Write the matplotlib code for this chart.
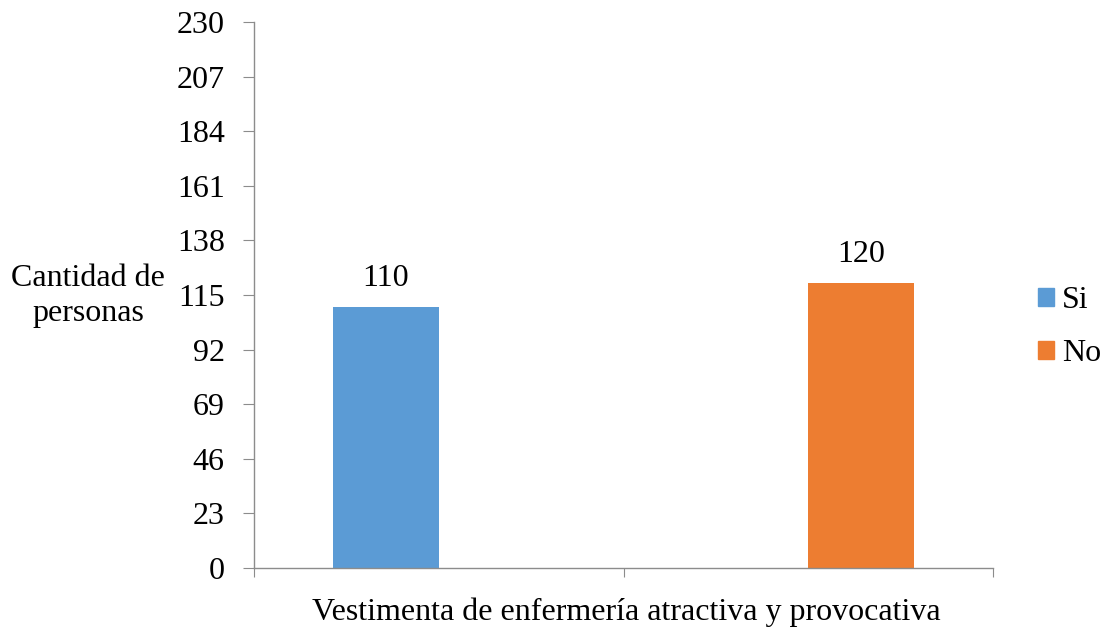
import numpy as np
import matplotlib
matplotlib.use("Agg")
import matplotlib.pyplot as plt
from matplotlib.patches import Patch

series = ["Si", "No"]
values = [110, 120]
colors = ["#5B9BD5", "#ED7D31"]
yticks = [0, 23, 46, 69, 92, 115, 138, 161, 184, 207, 230]

plt.rcParams["font.family"] = ["Liberation Serif", "DejaVu Serif"]
FS = 23

fig = plt.figure(figsize=(11.06, 6.32), dpi=100)
ax = fig.add_axes([254/1106, 1 - 568/632, (993 - 254)/1106, (568 - 22)/632])

width = 106 / 370
# each series sits in its own category slot, offset like a grouped bar chart
centers = [0.5, 1.5]
offsets = [-width / 2, width / 2]
for i in range(2):
    x = centers[i] + offsets[i]
    ax.bar(x, values[i], width=width, color=colors[i])
    ax.text(x, values[i] + 6, str(values[i]), ha="center", va="bottom", fontsize=FS)

ax.set_xlim(0, 2)
ax.set_ylim(0, 230)
ax.set_yticks(yticks)
ax.set_yticklabels([str(t) for t in yticks], fontsize=FS)
ax.set_xticks([0, 1, 2])
ax.set_xticklabels([])
for s in ["top", "right"]:
    ax.spines[s].set_visible(False)
for s in ["left", "bottom"]:
    ax.spines[s].set_color("#8c8c8c")
    ax.spines[s].set_linewidth(1.0)
ax.tick_params(axis="y", length=8, color="#8c8c8c", pad=13)
ax.tick_params(axis="x", length=6.5, color="#8c8c8c")

fig.text(88/1106, 1 - 296/632, "Cantidad de\npersonas", ha="center", va="center",
         fontsize=FS, linespacing=1.3)
fig.text(626/1106, 1 - 612/632, "Vestimenta de enfermería atractiva y provocativa",
         ha="center", va="center", fontsize=FS)

handles = [Patch(color=colors[i], label=series[i]) for i in range(2)]
fig.legend(handles=handles, loc="center left", bbox_to_anchor=(1038/1106, 1 - 327/632),
           frameon=False, fontsize=FS, handlelength=0.5, handleheight=0.5,
           handletextpad=0.25, labelspacing=0.75, borderpad=0, borderaxespad=0)

fig.savefig("out.png", dpi=100)
